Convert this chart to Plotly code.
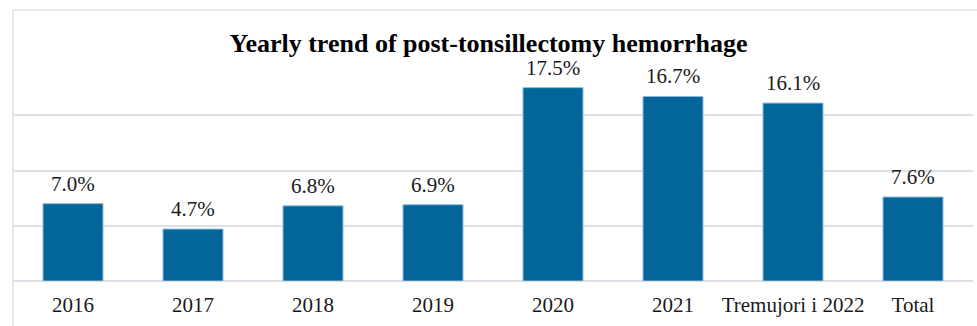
import plotly.graph_objects as go

categories = ["2016", "2017", "2018", "2019", "2020", "2021", "Tremujori i 2022", "Total"]
values = [7.0, 4.7, 6.8, 6.9, 17.5, 16.7, 16.1, 7.6]
labels = [f"{v:.1f}%" for v in values]
title = "Yearly trend of post-tonsillectomy hemorrhage"

font_family = "Liberation Serif, Times New Roman, serif"

fig = go.Figure(go.Bar(
    x=categories, y=values,
    marker=dict(color="#02669B", line=dict(color="#8DB8D8", width=1)),
    hoverinfo="skip",
))

fig.update_layout(
    width=977, height=326,
    margin=dict(l=13, r=4, t=60, b=45),
    paper_bgcolor="white", plot_bgcolor="white",
    bargap=0.5,
    showlegend=False,
    font=dict(family=font_family, size=21, color="#1a1a1a"),
    title=dict(text=f"<b>{title}</b>", x=0.5, xanchor="center",
               y=1 - 43 / 326, yanchor="middle",
               font=dict(family=font_family, size=26, color="black")),
    xaxis=dict(type="category", categoryorder="array", categoryarray=categories,
               showline=False, ticks="", ticklabelstandoff=9,
               tickfont=dict(size=21, color="#1a1a1a", family=font_family)),
    yaxis=dict(range=[0, 20], dtick=5, showticklabels=False, showgrid=True,
               gridcolor="#DCE1E8", gridwidth=1.5, zeroline=True,
               zerolinecolor="#DCE1E8", zerolinewidth=1.5),
)

for i, (v, t) in enumerate(zip(values, labels)):
    fig.add_annotation(x=i, y=v, text=t, showarrow=False, yanchor="bottom",
                       yshift=6, font=dict(size=21, color="#1a1a1a", family=font_family))

# outer frame lines (top and left)
fig.add_shape(type="line", xref="paper", yref="paper",
              x0=0, x1=1.01, y0=1 + 50 / 221, y1=1 + 50 / 221,
              line=dict(color="#DCE1E8", width=1.5))
fig.add_shape(type="line", xref="paper", yref="paper",
              x0=0, x1=0, y0=-0.3, y1=1 + 50 / 221,
              line=dict(color="#DCE1E8", width=1.5))

fig.write_html("out.html")
